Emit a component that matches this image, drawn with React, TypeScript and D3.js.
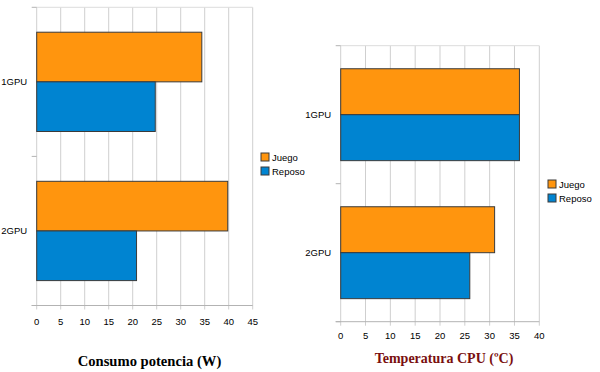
import React from "react";
import * as d3 from "d3";

const categories = ["1GPU", "2GPU"];
const seriesNames = ["Juego", "Reposo"];
const powerJuego = [34.4, 39.8];
const powerReposo = [24.7, 20.8];
const tempJuego = [36, 31];
const tempReposo = [36, 26];
const powerTicks = [0, 5, 10, 15, 20, 25, 30, 35, 40, 45];
const tempTicks = [0, 5, 10, 15, 20, 25, 30, 35, 40];

const colors = ["#ff950e", "#0084d1"];
const FONT = "'Liberation Sans', Arial, sans-serif";
const SMALL = 9.5;

type PanelProps = {
  x0: number; x1: number; y0: number; y1: number;
  max: number; ticks: number[];
  juego: number[]; reposo: number[];
  tickLabelY: number;
  legendX: number; legendY: number;
  title: string; titleX: number; titleY: number; titleColor: string; titleSize: number;
};

function Panel(p: PanelProps) {
  const x = d3.scaleLinear().domain([0, p.max]).range([p.x0, p.x1]);
  const y = d3.scaleBand<string>().domain(categories).range([p.y0, p.y1]).paddingInner(0).paddingOuter(0);
  const bw = y.bandwidth();
  const pad = bw * 0.167;
  const barH = (bw - 2 * pad) / 2;
  const series = [p.juego, p.reposo];
  return (
    <g>
      {p.ticks.map((t) => (
        <line key={"g" + t} x1={x(t)} x2={x(t)} y1={p.y0} y2={p.y1 + 4} stroke="#cfcfcf" strokeWidth={1} />
      ))}
      <line x1={p.x0} x2={p.x1} y1={p.y0} y2={p.y0} stroke="#dcdcdc" strokeWidth={1} />
      {[p.y0, p.y0 + bw, p.y1].map((v, i) => (
        <line key={"ct" + i} x1={p.x0 - 5} x2={p.x0} y1={v} y2={v} stroke="#b3b3b3" strokeWidth={1} />
      ))}
      <line x1={p.x0 - 5} x2={p.x1} y1={p.y1} y2={p.y1} stroke="#b3b3b3" strokeWidth={1} />
      {categories.map((c, ci) =>
        series.map((s, si) => (
          <rect
            key={c + si}
            x={x(0)}
            y={(y(c) as number) + pad + si * barH}
            width={x(s[ci]) - x(0)}
            height={barH}
            fill={colors[si]}
            stroke="#3a3a3a"
            strokeWidth={1}
          />
        ))
      )}
      {categories.map((c) => (
        <text key={"l" + c} x={p.x0 - 9.5} y={(y(c) as number) + bw / 2} textAnchor="end" dominantBaseline="central"
          fontFamily={FONT} fontSize={SMALL} fill="#000">{c}</text>
      ))}
      {p.ticks.map((t) => (
        <text key={"t" + t} x={x(t)} y={p.tickLabelY} textAnchor="middle" dominantBaseline="central"
          fontFamily={FONT} fontSize={SMALL} fill="#000">{t}</text>
      ))}
      {seriesNames.map((n, i) => (
        <g key={n}>
          <rect x={p.legendX} y={p.legendY + i * 14 - 4} width={8} height={8} fill={colors[i]} stroke="#3a3a3a" strokeWidth={1} />
          <text x={p.legendX + 11} y={p.legendY + i * 14} dominantBaseline="central" fontFamily={FONT} fontSize={SMALL} fill="#000">{n}</text>
        </g>
      ))}
      <text x={p.titleX} y={p.titleY} textAnchor="middle" dominantBaseline="central"
        fontFamily="'Liberation Serif', 'Times New Roman', serif" fontWeight="bold" fontSize={p.titleSize} fill={p.titleColor}>{p.title}</text>
    </g>
  );
}

export default function App() {
  return (
    <svg width={600} height={372} style={{ position: "absolute", left: 0, top: 0, background: "#fff" }}>
      <rect x={0} y={0} width={600} height={372} fill="#fff" />
      <Panel
        x0={36.7} x1={252.7} y0={7.3} y1={305.5} max={45} ticks={powerTicks}
        juego={powerJuego} reposo={powerReposo} tickLabelY={321.5}
        legendX={261} legendY={157}
        title="Consumo potencia (W)" titleX={149.5} titleY={361} titleColor="#000" titleSize={14.6}
      />
      <Panel
        x0={340.7} x1={539.3} y0={45.7} y1={321.7} max={40} ticks={tempTicks}
        juego={tempJuego} reposo={tempReposo} tickLabelY={335}
        legendX={548} legendY={184}
        title="Temperatura CPU (ºC)" titleX={444} titleY={358.5} titleColor="#7a0f0f" titleSize={14}
      />
    </svg>
  );
}
